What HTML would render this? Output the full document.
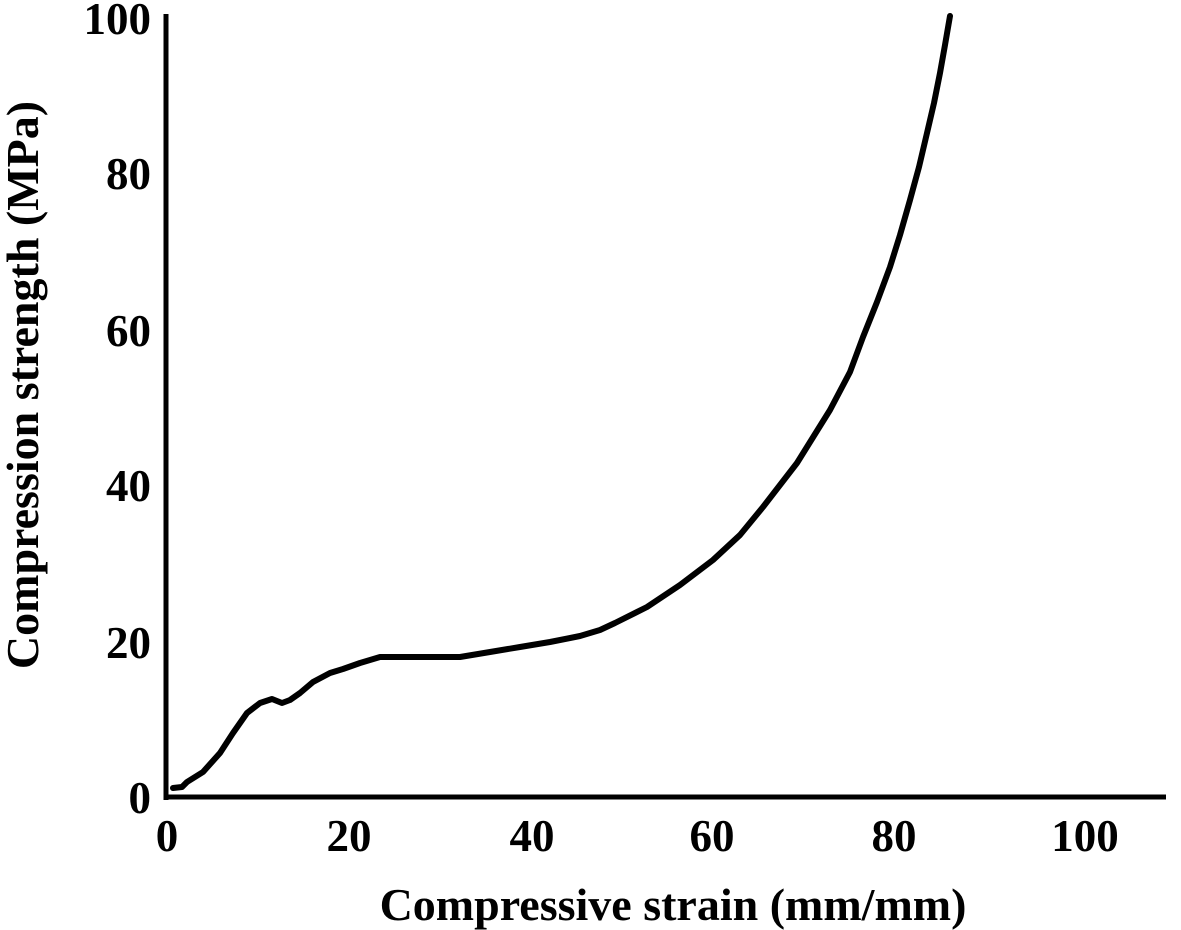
<!DOCTYPE html>
<html><head><style>
html,body{margin:0;padding:0;background:#fff;}
svg{display:block;}
text{font-family:"Liberation Serif",serif;font-weight:bold;fill:#000;}
</style></head><body>
<svg width="1181" height="930" viewBox="0 0 1181 930">
<line x1="166" y1="14" x2="166" y2="800" stroke="#000" stroke-width="5"/>
<line x1="164" y1="797" x2="1166" y2="797" stroke="#000" stroke-width="5"/>
<g font-size="45" text-anchor="end">
<text x="151" y="34">100</text>
<text x="151" y="189">80</text>
<text x="151" y="346">60</text>
<text x="151" y="501">40</text>
<text x="151" y="658">20</text>
<text x="151" y="813">0</text>
</g>
<g font-size="45" text-anchor="middle">
<text x="167" y="851">0</text>
<text x="349" y="851">20</text>
<text x="532" y="851">40</text>
<text x="712" y="851">60</text>
<text x="894" y="851">80</text>
<text x="1085" y="851">100</text>
</g>
<text x="673" y="920" font-size="46" text-anchor="middle">Compressive strain (mm/mm)</text>
<text transform="translate(38,385) rotate(-90)" font-size="46" text-anchor="middle">Compression strength (MPa)</text>
<polyline fill="none" stroke="#000" stroke-width="6" stroke-linejoin="round" stroke-linecap="round"
points="173,788 182,787 187,782 203,772 220,753 233,733 247,713 260,703 272,699 282,703 290,700 300,693 313,682 330,673 343,669 360,663 380,657 430,657 460,657 490,652 520,647 550,642 580,636 600,630 615,623 647,607 680,585 713,560 740,535 763,507 797,463 830,410 850,372 863,337 877,302 890,267 900,235 910,200 919,167 927,133 934,103 940,73 945,45 950,16"/>
</svg>
</body></html>
